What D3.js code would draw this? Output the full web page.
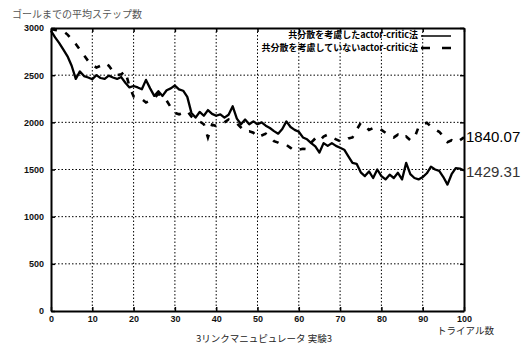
<!DOCTYPE html>
<html><head><meta charset="utf-8">
<script src="https://cdn.jsdelivr.net/npm/d3@7"></script>
<style>
body{margin:0;background:#fff;}
text{font-family:"Liberation Sans",Arial,"Noto Sans CJK JP",sans-serif;}
.jp{font-family:"Noto Sans CJK JP","Liberation Sans",sans-serif;}
</style></head>
<body><svg id="c" width="530" height="346"></svg>
<script>
const trials = d3.range(0, 101);
const withCov = [2970,2900,2840,2770,2700,2600,2460,2540,2490,2475,
2457,2500,2470,2460,2495,2475,2460,2480,2420,2370,
2385,2370,2350,2450,2360,2280,2330,2280,2340,2360,
2390,2350,2335,2270,2100,2050,2110,2070,2130,2090,
2070,2085,2050,2080,2170,2040,1980,2030,1980,2010,
1980,2000,1965,1940,1907,1880,1930,2010,1950,1920,
1900,1840,1820,1780,1745,1680,1780,1750,1780,1750,
1730,1710,1640,1570,1560,1470,1430,1480,1410,1500,
1430,1395,1445,1410,1465,1395,1570,1450,1410,1395,
1420,1460,1530,1500,1485,1420,1340,1450,1515,1510,1490];
const withoutCov = [2990,2980,2975,2965,2930,2880,2830,2770,2710,2650,
2610,2580,2600,2630,2600,2540,2500,2510,2540,2380,
2275,2260,2245,2210,2230,2260,2300,2280,2230,2160,
2100,2085,2100,2120,2060,2030,2010,1980,1840,1975,
1960,1980,2000,2030,2010,1990,1945,1900,1905,1890,
1840,1860,1880,1850,1800,1785,1760,1760,1730,1695,
1710,1720,1715,1785,1830,1800,1850,1870,1840,1820,
1800,1800,1830,1840,1920,1995,1965,1920,1940,1950,
1920,1890,1860,1840,1870,1830,1850,1810,1835,1950,
1978,1996,1955,1925,1900,1850,1790,1810,1785,1810,1840];
const xTicks = [0,10,20,30,40,50,60,70,80,90,100];
const yTicks = [0,500,1000,1500,2000,2500,3000];
const seriesNames = ["共分散を考慮したactor-critic法","共分散を考慮していないactor-critic法"];
const endLabels = ["1840.07","1429.31"];
const yTitle = "ゴールまでの平均ステップ数";
const xTitle = "トライアル数";
const caption = "3リンクマニュピュレータ 実験3";

const svg = d3.select("#c");
const L=51,R=464,T=28,B=311;
const x = d3.scaleLinear().domain([0,100]).range([L,R]);
const y = d3.scaleLinear().domain([0,3000]).range([B,T]);

// grid
const g = svg.append("g");
xTicks.filter(d=>d>0&&d<100).forEach(d=>{
  g.append("line").attr("x1",x(d)).attr("x2",x(d)).attr("y1",T).attr("y2",B)
   .attr("stroke","#000").attr("stroke-width",1).attr("stroke-dasharray","1.5,2");
});
yTicks.filter(d=>d>0&&d<3000).forEach(d=>{
  g.append("line").attr("x1",L).attr("x2",R).attr("y1",y(d)).attr("y2",y(d))
   .attr("stroke","#000").attr("stroke-width",1).attr("stroke-dasharray","1.5,2");
});

// axes
const fmt = d3.format("d");
const xa = svg.append("g").attr("transform",`translate(0,${B})`)
  .call(d3.axisBottom(x).tickValues(xTicks).tickFormat(fmt).tickSizeInner(-4).tickSizeOuter(0).tickPadding(5));
const xt = svg.append("g").attr("transform",`translate(0,${T})`)
  .call(d3.axisTop(x).tickValues(xTicks).tickSizeInner(-4).tickSizeOuter(0).tickFormat(""));
const ya = svg.append("g").attr("transform",`translate(${L},0)`)
  .call(d3.axisLeft(y).tickValues(yTicks).tickFormat(fmt).tickSizeInner(-4).tickSizeOuter(0).tickPadding(7));
const yr = svg.append("g").attr("transform",`translate(${R},0)`)
  .call(d3.axisRight(y).tickValues(yTicks).tickSizeInner(-4).tickSizeOuter(0).tickFormat(""));
[xa,xt,ya,yr].forEach(a=>{
  a.select(".domain").attr("stroke","#000").attr("stroke-width",2);
  a.selectAll(".tick line").attr("stroke","#000").attr("stroke-width",1.5);
  a.selectAll("text").attr("font-size",9).attr("font-weight","bold").attr("fill","#111");
});

// lines
const line = d3.line().x((d,i)=>x(trials[i])).y(d=>y(d));
svg.append("path").datum(withCov).attr("d",line).attr("fill","none")
  .attr("stroke","#000").attr("stroke-width",2.3).attr("stroke-linejoin","round");
svg.append("path").datum(withoutCov).attr("d",line).attr("fill","none")
  .attr("stroke","#000").attr("stroke-width",2.6).attr("stroke-dasharray","6,9");

// legend
svg.append("text").attr("class","jp").attr("x",418).attr("y",38).attr("text-anchor","end")
  .attr("font-size",9).attr("font-weight","bold").text(seriesNames[0]);
svg.append("text").attr("class","jp").attr("x",418).attr("y",51).attr("text-anchor","end")
  .attr("font-size",9).attr("font-weight","bold").text(seriesNames[1]);
svg.append("line").attr("x1",421).attr("x2",451).attr("y1",36).attr("y2",36)
  .attr("stroke","#000").attr("stroke-width",1.5);
svg.append("line").attr("x1",421).attr("x2",452).attr("y1",48).attr("y2",48)
  .attr("stroke","#000").attr("stroke-width",2.5).attr("stroke-dasharray","9,12");

// end labels
svg.append("text").attr("x",466).attr("y",y(1840.07)+5).attr("font-size",15).text(endLabels[0]);
svg.append("text").attr("x",466).attr("y",y(1429.31)+1).attr("font-size",15).attr("fill","#333").text(endLabels[1]);

// titles
svg.append("text").attr("class","jp").attr("x",12).attr("y",18).attr("font-size",10)
  .attr("fill","#555").text(yTitle);
svg.append("text").attr("class","jp").attr("x",437).attr("y",334).attr("font-size",9.5)
  .attr("fill","#222").text(xTitle);
svg.append("text").attr("class","jp").attr("x",264).attr("y",342).attr("text-anchor","middle")
  .attr("font-size",9.5).attr("fill","#222").text(caption);
</script></body></html>
